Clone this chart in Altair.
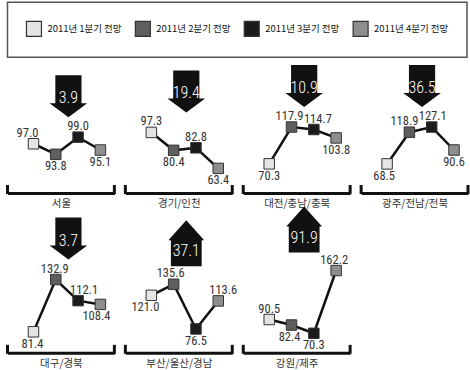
import altair as alt
import pandas as pd

# ---- data ----
regions = ["서울", "경기/인천", "대전/충남/충북", "광주/전남/전북", "대구/경북", "부산/울산/경남", "강원/제주"]
quarters = ["2011년 1분기 전망", "2011년 2분기 전망", "2011년 3분기 전망", "2011년 4분기 전망"]
q1 = [97.0, 97.3, 70.3, 68.5, 81.4, 121.0, 90.5]
q2 = [93.8, 80.4, 117.9, 118.9, 132.9, 135.6, 82.4]
q3 = [99.0, 82.8, 114.7, 127.1, 112.1, 76.5, 70.3]
q4 = [95.1, 63.4, 103.8, 90.6, 108.4, 113.6, 162.2]

# ---- styling / layout ----
colors = ["#e4e4e4", "#5e5e5e", "#1c1a1a", "#8e8e8e"]
y_domains = [[82.1, 122.0], [40.2, 164.5], [32.6, 203.1], [22.3, 231.8],
             [60.7, 190.6], [44.9, 219.4], [41.7, 234.8]]
label_below = [[0, 1, 0, 1], [0, 1, 0, 1], [1, 0, 0, 1], [1, 0, 0, 1],
               [1, 0, 0, 1], [1, 0, 1, 0], [0, 1, 1, 0]]
label_dx = [[-6, 0, 0, 0], [0, 0, 0, 0], [0, -2, 4, 0], [-3, -5, 1, 0],
            [-1, -1, 6, -4], [-6, -3, 0, 5], [0, -2, 0, -2]]
W, H = 107, 132
NUM = "Roboto Condensed, Liberation Sans Narrow, Roboto, sans-serif"
KR = "Noto Sans CJK KR"
DOWN = "M-0.57,-0.913L0.57,-0.913L0.57,0.304L0.82,0.304L0,0.913L-0.82,0.304L-0.57,0.304Z"
UP = "M0,-1L0.78,-0.13L0.67,-0.13L0.67,1L-0.67,1L-0.67,-0.13L-0.78,-0.13Z"

rows, arrows = [], []
for i, r in enumerate(regions):
    vals = [q1[i], q2[i], q3[i], q4[i]]
    for k, q in enumerate(quarters):
        rows.append(dict(region=r, quarter=q, qi=k, value=vals[k],
                         label=f"{vals[k]:.1f}", below=label_below[i][k],
                         ldx=label_dx[i][k]))
    ch = round(q4[i] - q3[i], 1)
    arrows.append(dict(region=r, top=max(vals), dir="up" if ch > 0 else "down",
                       txt=f"{abs(ch):.1f}"))
df = pd.DataFrame(rows)
adf = pd.DataFrame(arrows)

legend = alt.Legend(title=None, orient="top", direction="horizontal", columns=4,
                    symbolType="square", symbolSize=225, symbolStrokeWidth=1.2,
                    symbolStrokeColor="#333", symbolOpacity=1,
                    labelFont=KR, labelFontSize=9.5, labelColor="#111", labelOffset=5,
                    columnPadding=10, padding=18, strokeColor="#555", offset=4)


def panel(i):
    r = regions[i]
    d = df[df.region == r]
    a = adf[adf.region == r]
    ysc = alt.Scale(domain=y_domains[i], nice=False, zero=False)
    xenc = alt.X("quarter:N", sort=quarters,
                 scale=alt.Scale(type="point", padding=0.896, align=0.65),
                 axis=alt.Axis(title=r, labels=False, ticks=False, grid=False,
                               domainWidth=3, domainColor="#111", titlePadding=6,
                               titleFont=KR, titleFontSize=10.5, titleFontWeight="normal",
                               titleColor="#333"))
    base = alt.Chart(d).encode(x=xenc, y=alt.Y("value:Q", scale=ysc, axis=None))
    line = base.mark_line(color="#111", strokeWidth=2.5).encode(order="qi:O")
    pts = base.mark_point(shape="square", filled=True, size=110, opacity=1,
                          stroke="#333", strokeWidth=1).encode(
        color=alt.Color("quarter:N", scale=alt.Scale(domain=quarters, range=colors),
                        legend=legend))
    tx = dict(text="label:N", xOffset=alt.XOffset("ldx:Q", scale=None))
    above = base.transform_filter("datum.below == 0").mark_text(
        dy=-11, fontSize=12.5, font=NUM, color="#333").encode(**tx)
    below = base.transform_filter("datum.below == 1").mark_text(
        dy=12, fontSize=12.5, font=NUM, color="#333").encode(**tx)
    ab = alt.Chart(a).encode(x=alt.value(W * 0.57), y=alt.Y("top:Q", scale=ysc, axis=None))
    arrow = ab.mark_point(filled=True, opacity=1, color="#111", size=2116,
                          yOffset=-41, strokeWidth=0).encode(
        shape=alt.Shape("dir:N", scale=alt.Scale(domain=["down", "up"], range=[DOWN, UP]),
                        legend=None))
    tdown = ab.transform_filter("datum.dir == 'down'").mark_text(
        color="white", fontSize=16, font=NUM, fontWeight=300, yOffset=-39).encode(text="txt:N")
    tup = ab.transform_filter("datum.dir == 'up'").mark_text(
        color="white", fontSize=16, font=NUM, fontWeight=300, yOffset=-33).encode(text="txt:N")
    rb = alt.Chart(a).mark_rule(color="#111", strokeWidth=3)
    left = rb.encode(x=alt.value(0), y=alt.value(H - 8), y2=alt.value(H + 1))
    right = rb.encode(x=alt.value(W), y=alt.value(H - 8), y2=alt.value(H + 1))
    return alt.layer(left, right, line, pts, above, below, arrow, tdown, tup).properties(
        width=W, height=H)


chart = alt.concat(*[panel(i) for i in range(len(regions))], columns=4,
                   spacing={"row": 28, "column": 11}, bounds="flush").properties(
    padding={"left": 5.5, "top": 1, "right": 0, "bottom": 0},
    background="white").configure_view(stroke=None).configure_legend(strokeWidth=1.5)

chart.save("out.html", embed_options={"renderer": "svg", "actions": False})
